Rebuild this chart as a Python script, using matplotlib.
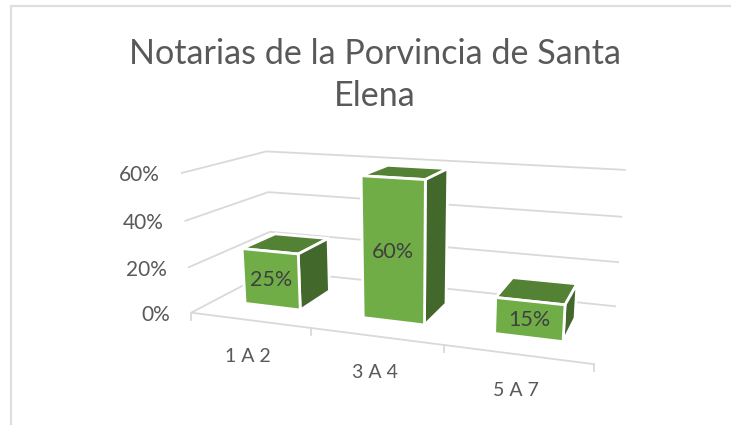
import numpy as np
import matplotlib
matplotlib.use("Agg")
import matplotlib.pyplot as plt
from matplotlib.patches import Polygon

categories = ["1 A 2", "3 A 4", "5 A 7"]
values = [0.25, 0.60, 0.15]
value_labels = ["25%", "60%", "15%"]
axis_ticks = [0.0, 0.2, 0.4, 0.6]
axis_labels = ["0%", "20%", "40%", "60%"]
title_text = "Notarias de la Porvincia de Santa\nElena"

GRID = "#d9d9d9"
FRONT = "#70ad47"
SIDE = "#43682b"
TOP = "#548235"
TXT = "#595959"
LBL = "#404040"
FONT = ["Lato", "Open Sans", "DejaVu Sans"]

# Camera: reference points of the 3D box (u along categories, v depth, w value) -> pixels
cal = [
    ((0, 0, 0), (191, 313)), ((0, 0, .2), (188, 267)), ((0, 0, .4), (185, 221)), ((0, 0, .6), (181, 173)),
    ((0, 1, 0), (272, 271)), ((0, 1, .2), (270, 231)), ((0, 1, .4), (268, 192)), ((0, 1, .6), (266, 152)),
    ((1, 1, 0), (616, 306)), ((1, 1, .2), (619, 262)), ((1, 1, .4), (622, 217)), ((1, 1, .6), (626, 170)),
    ((1, 0, 0), (594, 364)), ((1/3, 0, 0), (310.7, 328)), ((2/3, 0, 0), (444, 345.7)),
]
A = []
for (u, v, w), (x, y) in cal:
    X = [u, v, w, 1]
    A.append(X + [0, 0, 0, 0] + [-x * c for c in X])
    A.append([0, 0, 0, 0] + X + [-y * c for c in X])
P = np.linalg.svd(np.array(A, float))[2][-1].reshape(3, 4)


def proj(u, v, w):
    h = P @ np.array([u, v, w, 1.0])
    return h[0] / h[2], h[1] / h[2]


fig = plt.figure(figsize=(7.31, 4.25), dpi=100, facecolor="white")
ax = fig.add_axes([0, 0, 1, 1])
ax.set_xlim(0, 731)
ax.set_ylim(425, 0)
ax.axis("off")

# chart frame
ax.plot([11, 11, 731], [425, 5.5, 5.5], color="#dedede", lw=1.6, solid_joinstyle="miter")

ax.text(375, 75, title_text, ha="center", va="center", fontsize=24.6, color=TXT,
        family=FONT, linespacing=1.36)


def seg(a, b, lw=1.3, z=1):
    pa, pb = proj(*a), proj(*b)
    ax.plot([pa[0], pb[0]], [pa[1], pb[1]], color=GRID, lw=lw, zorder=z, solid_capstyle="butt")


for t, lab in zip(axis_ticks, axis_labels):
    seg((0, 0, t), (0, 1, t))
    seg((0, 1, t), (1, 1, t))
    x, y = proj(0, 0, t)
    ax.text(x - 21, y + 2, lab, ha="right", va="center", fontsize=15, color=TXT, family=FONT)

seg((0, 0, 0), (1, 0, 0))
n = len(categories)
for i in range(n + 1):
    x, y = proj(i / n, 0, 0)
    ax.plot([x, x], [y, y + 7], color=GRID, lw=1.3, zorder=1)
for i, c in enumerate(categories):
    x, y = proj((i + .5) / n, 0, 0)
    ax.text(x - 1, y + 36, c, ha="center", va="center", fontsize=14, color=TXT, family=FONT)

half = 0.08
v0, v1 = 0.27, 0.69
for i, (val, lab) in enumerate(zip(values, value_labels)):
    c = (i + .5) / n + 0.002
    u0, u1 = c - half, c + half
    faces = [
        ([(u0, v0, val), (u1, v0, val), (u1, v1, val), (u0, v1, val)], TOP),
        ([(u1, v0, 0), (u1, v1, 0), (u1, v1, val), (u1, v0, val)], SIDE),
        ([(u0, v0, 0), (u1, v0, 0), (u1, v0, val), (u0, v0, val)], FRONT),
    ]
    for pts, col in faces:
        ax.add_patch(Polygon([proj(*p) for p in pts], closed=True, facecolor=col,
                             edgecolor="white", lw=2.0, zorder=3 + i, joinstyle="miter"))
    x, y = proj(c, v0, val / 2)
    ax.text(x, y + 1, lab, ha="center", va="center", fontsize=15.5, color=LBL, family=FONT, zorder=10)

fig.savefig("out.png", dpi=100)
